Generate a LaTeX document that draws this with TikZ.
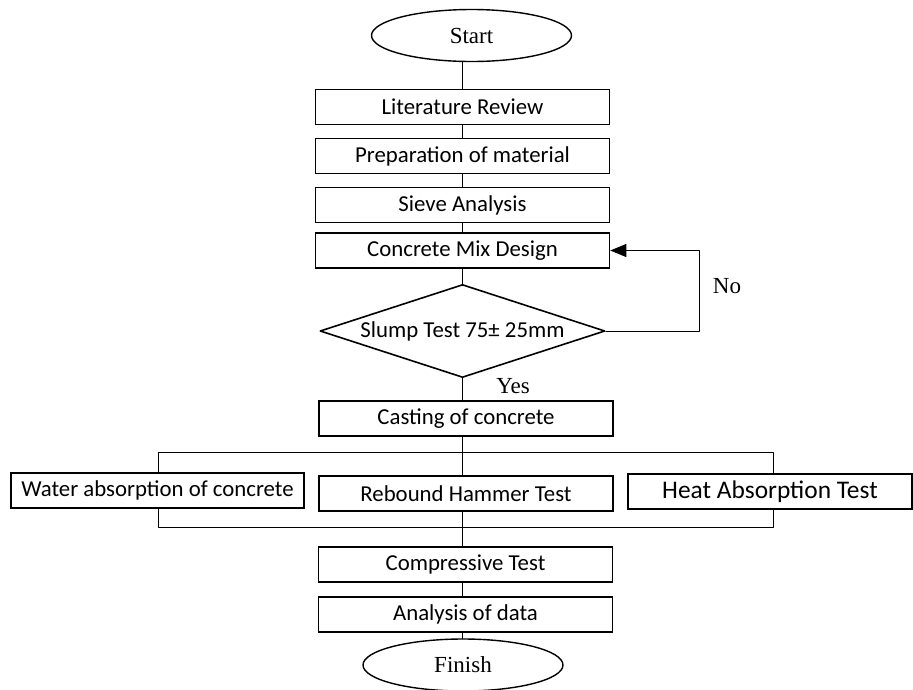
\documentclass[tikz,border=0pt]{standalone}
\usepackage{fontspec}
\setmainfont{Liberation Serif}
\newfontfamily\calfont{Carlito}
\usetikzlibrary{shapes.geometric}
\usetikzlibrary{arrows.meta}

\begin{document}
\begin{tikzpicture}[line cap=round,line join=round,>={Triangle[length=16pt,width=13pt]},x=1pt,y=-1pt,
laatikko/.style={draw,line width=1.6pt,line join=miter,rectangle,minimum width=294pt,minimum height=35pt,inner sep=0pt,font=\calfont\fontsize{22.8}{26}\selectfont},
soikio/.style={draw,line width=1.4pt,ellipse,minimum width=200pt,minimum height=52pt,inner sep=0pt,font=\fontsize{23}{27}\selectfont},
viiva/.style={line width=0.9pt}]
\useasboundingbox (0,0) rectangle (913,689);
%ylaosa
\node[soikio] (start) at (471.5,35.5) {Start};
\node[laatikko] (lit) at (462.5,107) {Literature Review};
\node[laatikko] (prep) at (462.5,156) {Preparation of material};
\node[laatikko] (sieve) at (462.5,205) {Sieve Analysis};
\node[laatikko] (mix) at (462.5,250.5) {Concrete Mix Design};
\node[draw,line width=1.6pt,diamond,aspect=3,minimum width=285pt,minimum height=93pt,inner sep=0pt,font=\calfont\fontsize{22.8}{26}\selectfont] (slump) at (462.5,331) {Slump Test 75± 25mm};
\node[font=\fontsize{23}{27}\selectfont] (no) at (727,286) {No};
\node[font=\fontsize{23}{27}\selectfont] (yes) at (513,386) {Yes};
%testit
\node[laatikko] (cast) at (466,418.5) {Casting of concrete};
\node[laatikko,minimum width=293pt] (water) at (157.5,490.5) {Water absorption of concrete};
\node[laatikko] (rebound) at (466,493.5) {Rebound Hammer Test};
\node[laatikko,minimum width=284pt,font=\calfont\fontsize{25.4}{29}\selectfont] (heat) at (770,491.5) {Heat Absorption Test};
%alaosa
\node[laatikko] (comp) at (465.5,564.5) {Compressive Test};
\node[laatikko] (anal) at (465.5,614.5) {Analysis of data};
\node[soikio] (finish) at (463,665) {Finish};

%viivat
\draw[viiva] (start.south -| lit.north) -- (lit.north);
\draw[viiva] (lit) -- (prep);
\draw[viiva] (prep) -- (sieve);
\draw[viiva] (sieve) -- (mix);
\draw[viiva] (mix) -- (slump);
\draw[viiva] (slump.south) -- (slump.south |- cast.north);
\draw[viiva] (slump.south |- cast.south) -- (slump.south |- rebound.north);
\draw[viiva] (slump.south |- rebound.south) -- (slump.south |- comp.north);
\draw[viiva] (slump.south |- comp.south) -- (slump.south |- anal.north);
\draw[viiva] (slump.south |- anal.south) -- (slump.south |- finish.north);
%sulkeet
\coordinate (vy) at (158,452);
\coordinate (oy) at (773,452);
\coordinate (va) at (158,527);
\coordinate (oa) at (773,527);
\draw[viiva] (water.north -| vy) -- (vy) -- (oy) -- (heat.north -| oy);
\draw[viiva] (water.south -| va) -- (va) -- (oa) -- (heat.south -| oa);
%paluu
\coordinate (kulma) at (699,250.5);
\draw[viiva,->] (slump.east) -- (slump.east -| kulma) -- (kulma) -- (mix.east);
\end{tikzpicture}
\end{document}
